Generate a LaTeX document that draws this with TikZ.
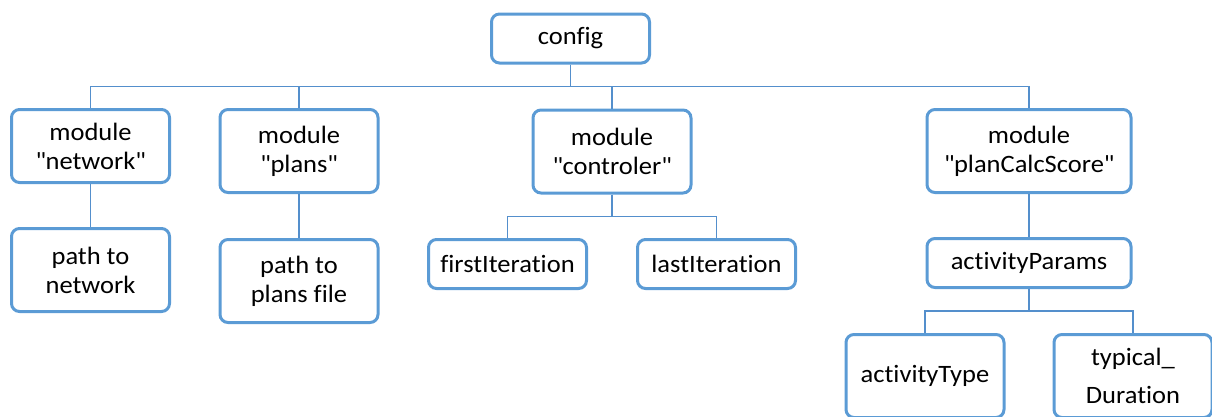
\documentclass[tikz,border=0pt]{standalone}
\usepackage{fontspec}
\setmainfont{Carlito}[Ligatures=NoCommon,FakeStretch=1.06]
\usetikzlibrary{positioning,calc}
\definecolor{boxblue}{RGB}{91,155,213}
\definecolor{lineblue}{RGB}{84,143,204}
\newcommand{\qt}[1]{\textquotedbl#1\textquotedbl}
\tikzset{tree/.style={x=1pt,y=-1pt,on grid}}
\tikzset{module/.style={draw=boxblue,line width=3pt,rounded corners=8pt,align=center,
  minimum width=158pt,minimum height=83pt,inner sep=2pt,font=\fontsize{25}{29}\selectfont}}
\tikzset{flat/.style={minimum height=49pt}}
\tikzset{wide/.style={minimum width=204pt}}
\tikzset{link/.style={draw=lineblue,line width=1.3pt,
  to path={|- ($(\tikztostart)!.5!(\tikztotarget)$) -| (\tikztotarget)}}}

\begin{document}
\begin{tikzpicture}[tree]
  \useasboundingbox (0,0) rectangle (1212,416);
  \clip (0,0) rectangle (1212,416);
  \node[module,flat] (config) at (570.5,38.5) {config};
  \node[module,minimum height=73pt] (net) [below left=107.5pt and 480pt of config] {module\\\qt{network}};
  \node[module] (plans) [below left=112.5pt and 271.5pt of config] {module\\\qt{plans}};
  \node[module] (ctrl) [below right=113pt and 41.5pt of config] {module\\\qt{controler}};
  \node[module,wide] (score) [below right=112.5pt and 458.5pt of config] {module\\\qt{planCalcScore}};
  \node[module] (netpath) [below=124pt of net] {path to\\network};
  \node[module] (planspath) [below=130pt of plans] {path to\\plans file};
  \node[module,flat] (first) [below left=112.5pt and 104.5pt of ctrl] {firstIteration};
  \node[module,flat] (last) [below right=112.5pt and 104.5pt of ctrl] {lastIteration};
  \node[module,flat,wide] (params) [below=112pt of score] {activityParams};
  \node[module] (acttype) [below left=113pt and 104pt of params] {activityType};
  \node[module] (duration) [below right=113pt and 104pt of params] {typical\_\\[9pt]Duration};
  \path[link]
    (config.south) edge (net.north)
                   edge (plans.north)
                   edge (ctrl.north)
                   edge (score.north)
    (net.south) edge (netpath.north)
    (plans.south) edge (planspath.north)
    (ctrl.south) edge (first.north)
                 edge (last.north)
    (score.south) edge (params.north)
    (params.south) edge (acttype.north)
                   edge (duration.north);
\end{tikzpicture}
\end{document}
